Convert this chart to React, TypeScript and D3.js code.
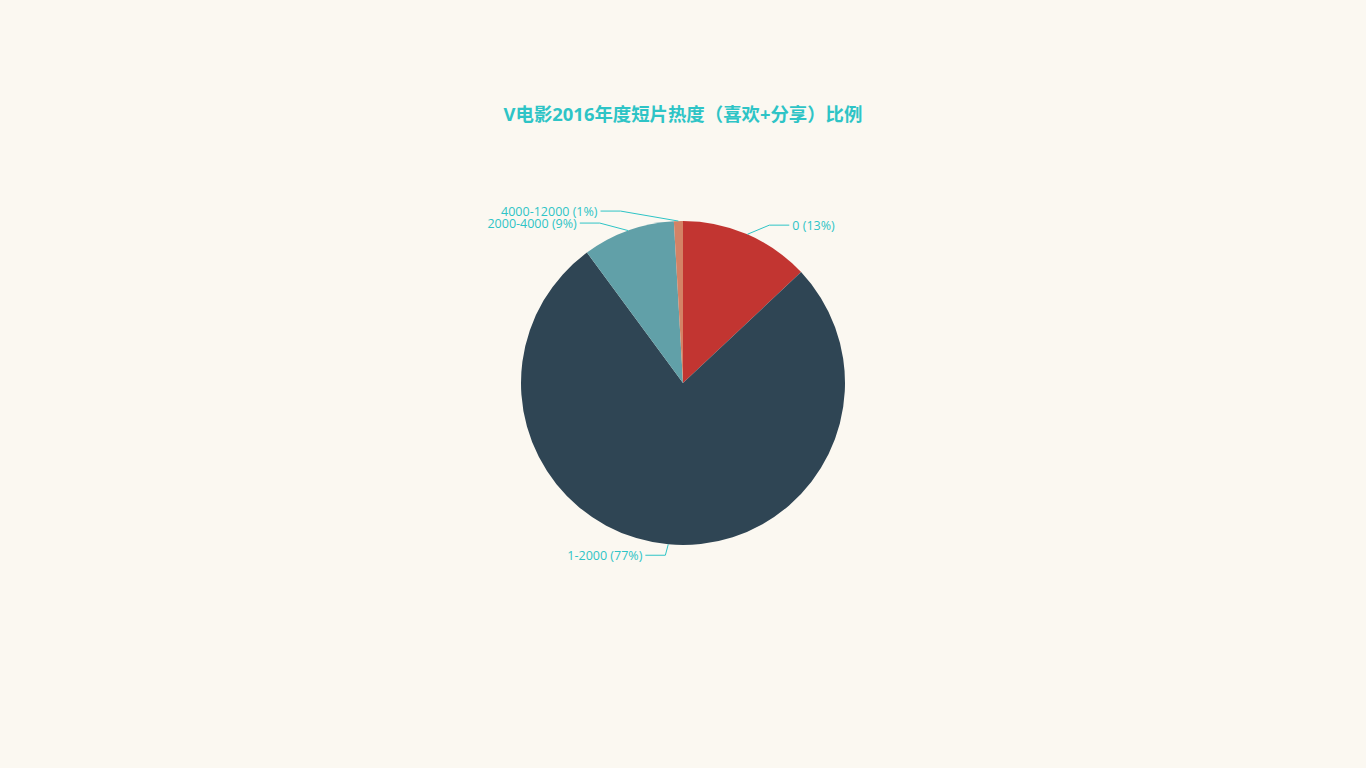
import React from "react";
import * as d3 from "d3";

// slice names and counts (clockwise from 12 o'clock)
const categories = ["0", "1-2000", "2000-4000", "4000-12000"];
const counts = [130, 769, 92, 9];
const colors = ["#c23531", "#2f4554", "#61a0a8", "#d48265"];

const TITLE = "V电影2016年度短片热度（喜欢+分享）比例";
const TEAL = "#2ec4c6";
const BG = "#fbf8f1";
const FONT = "'Open Sans', 'Noto Sans CJK SC', sans-serif";

const W = 1366;
const H = 768;
const cx = 683;
const cy = 383;
const r = 162;
const len1 = 10;
const len2 = 20;
const labelH = 12;

interface Lab {
    name: string;
    pct: number;
    x: number;
    y: number;
    dir: number;
    p1: [number, number];
    dist: number;
}

// ECharts-like overlap handling for outside pie labels
function adjustSide(list: Lab[], dir: number) {
    list.sort((a, b) => a.y - b.y);
    const shiftUp = (end: number, delta: number) => {
        for (let j = end; j >= 0; j--) {
            list[j].y -= delta;
            if (j > 0 && list[j].y > list[j - 1].y + labelH) break;
        }
    };
    const shiftDown = (start: number, end: number, delta: number) => {
        for (let j = start; j < end; j++) {
            list[j].y += delta;
            if (j > start && j + 1 < end && list[j + 1].y > list[j].y + labelH) {
                shiftUp(j, delta / 2);
                return;
            }
        }
        shiftUp(end - 1, delta / 2);
    };
    let lastY = 0;
    for (let i = 0; i < list.length; i++) {
        const delta = list[i].y - lastY;
        if (delta < 0) shiftDown(i, list.length, -delta);
        lastY = list[i].y + labelH;
    }
    const up = list.filter(l => l.y < cy);
    const down = list.filter(l => l.y >= cy);
    const changeX = (arr: Lab[], isDown: boolean) => {
        let lastDX = isDown ? Number.MAX_VALUE : 0;
        arr.forEach(l => {
            const dy = Math.abs(l.y - cy);
            let dx = dy < r + len1
                ? Math.sqrt((r + len1 + len2) ** 2 - dy * dy)
                : Math.abs(l.x - cx);
            if (isDown && dx >= lastDX) dx = lastDX - 10;
            if (!isDown && dx <= lastDX) dx = lastDX + 10;
            l.x = cx + dx * dir;
            lastDX = dx;
        });
    };
    changeX(up, false);
    changeX(down, true);
}

export default function App() {
    const total = d3.sum(counts);
    const pie = d3.pie<number>().sort(null).startAngle(0).endAngle(2 * Math.PI);
    const arcs = pie(counts);
    const arcGen = d3.arc<d3.PieArcDatum<number>>().innerRadius(0).outerRadius(r);

    const labels: Lab[] = arcs.map((a, i) => {
        const mid = (a.startAngle + a.endAngle) / 2;
        const dx = Math.sin(mid);
        const dy = -Math.cos(mid);
        const x1 = cx + r * dx;
        const y1 = cy + r * dy;
        const x2 = x1 + dx * len1;
        const y2 = y1 + dy * len1;
        const dir = dx < 0 ? -1 : 1;
        const x3 = x2 + dir * len2;
        return {
            name: categories[i],
            pct: Math.round((counts[i] / total) * 100),
            x: x3 + dir * 5,
            y: y2,
            dir,
            p1: [x1, y1],
            dist: x2 - x3,
        };
    });
    adjustSide(labels.filter(l => l.dir > 0), 1);
    adjustSide(labels.filter(l => l.dir < 0), -1);

    return (
        <div style={{ position: "fixed", left: 0, top: 0, width: W, height: H, background: BG }}>
            <svg width={W} height={H} style={{ display: "block" }}>
                <text
                    x={W / 2}
                    y={116}
                    textAnchor="middle"
                    dominantBaseline="middle"
                    fill={TEAL}
                    fontSize={18.4}
                    fontWeight="bold"
                    fontFamily={FONT}
                >
                    {TITLE}
                </text>
                <g transform={`translate(${cx},${cy})`}>
                    {arcs.map((a, i) => (
                        <path key={i} d={arcGen(a) || ""} fill={colors[i]} />
                    ))}
                </g>
                {labels.map((l, i) => {
                    const x3 = l.x - l.dir * 3;
                    const x2 = x3 + l.dist;
                    const pts = `${l.p1[0]},${l.p1[1]} ${x2},${l.y} ${x3},${l.y}`;
                    return (
                        <g key={i}>
                            <polyline points={pts} fill="none" stroke={TEAL} strokeWidth={1} />
                            <text
                                x={l.x}
                                y={l.y + 1.5}
                                textAnchor={l.dir < 0 ? "end" : "start"}
                                dominantBaseline="middle"
                                fill={TEAL}
                                fontSize={12.5}
                                fontFamily={FONT}
                            >
                                {`${l.name} (${l.pct}%)`}
                            </text>
                        </g>
                    );
                })}
            </svg>
        </div>
    );
}
